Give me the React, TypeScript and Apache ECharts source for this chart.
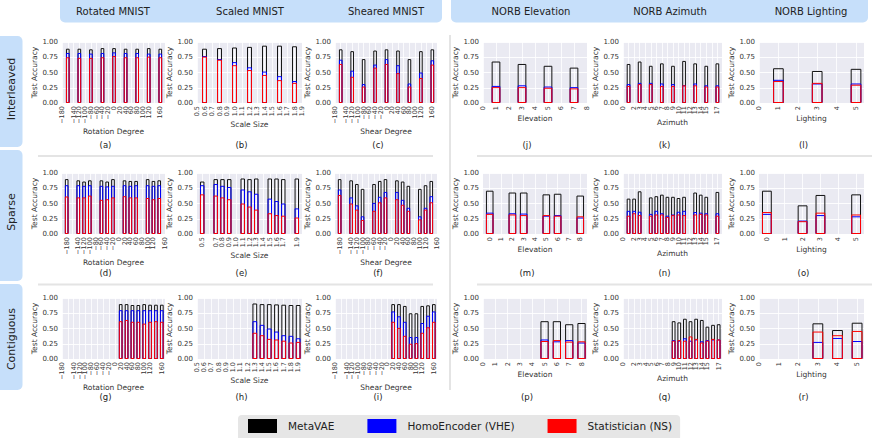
import React, { useEffect, useRef } from "react";
import * as echarts from "echarts";

// ---------- tick values ----------
const rotationTicks = [-180, -160, -140, -120, -100, -80, -60, -40, -20, 0, 20, 40, 60, 80, 100, 120, 140, 160];
const scaleTicks = [0.5, 0.6, 0.7, 0.8, 0.9, 1.0, 1.1, 1.2, 1.3, 1.4, 1.5, 1.6, 1.7, 1.8, 1.9];
const shearTicks = [-180, -160, -140, -120, -100, -80, -60, -40, -20, 0, 20, 40, 60, 80, 100, 120, 140, 160];
const elevationTicks = [0, 1, 2, 3, 4, 5, 6, 7, 8];
const azimuthTicks = [0, 1, 2, 3, 4, 5, 6, 7, 8, 9, 10, 11, 12, 13, 14, 15, 16, 17];
const lightingTicks = [0, 1, 2, 3, 4, 5];

const headerLeft = ["Rotated MNIST", "Scaled MNIST", "Sheared MNIST"];
const headerRight = ["NORB Elevation", "NORB Azimuth", "NORB Lighting"];
const rowNames = ["Interleaved", "Sparse", "Contiguous"];
const seriesNames = ["MetaVAE", "HomoEncoder (VHE)", "Statistician (NS)"];

// ---------- (a) Rotated / Interleaved ----------
const aX = [-160, -120, -80, -40, 0, 40, 80, 120, 160];
const aMeta = [0.89, 0.89, 0.88, 0.9, 0.9, 0.89, 0.89, 0.9, 0.89];
const aVhe = [0.82, 0.82, 0.81, 0.82, 0.83, 0.82, 0.82, 0.81, 0.81];
const aNs = [0.75, 0.74, 0.74, 0.75, 0.77, 0.75, 0.75, 0.76, 0.75];
// ---------- (b) Scaled / Interleaved ----------
const bX = [0.6, 0.8, 1.0, 1.2, 1.4, 1.6, 1.8];
const bMeta = [0.89, 0.9, 0.91, 0.92, 0.94, 0.94, 0.93];
const bVhe = [0.77, 0.72, 0.67, 0.585, 0.515, 0.44, 0.36];
const bNs = [0.76, 0.71, 0.62, 0.54, 0.46, 0.375, 0.33];
// ---------- (c) Sheared / Interleaved ----------
const cX = [-160, -120, -80, -40, 0, 40, 80, 120, 160];
const cMeta = [0.88, 0.85, 0.72, 0.86, 0.88, 0.86, 0.72, 0.85, 0.88];
const cVhe = [0.71, 0.53, 0.31, 0.63, 0.72, 0.62, 0.32, 0.5, 0.7];
const cNs = [0.64, 0.43, 0.27, 0.58, 0.64, 0.49, 0.27, 0.41, 0.63];
// ---------- (d) Rotated / Sparse ----------
const dX = [-180, -140, -120, -100, -60, -40, -20, 20, 40, 60, 100, 120, 140];
const dMeta = [0.9, 0.88, 0.86, 0.88, 0.88, 0.86, 0.9, 0.88, 0.87, 0.87, 0.9, 0.87, 0.88];
const dVhe = [0.8, 0.8, 0.79, 0.8, 0.79, 0.78, 0.79, 0.8, 0.79, 0.8, 0.8, 0.79, 0.8];
const dNs = [0.615, 0.6, 0.6, 0.63, 0.56, 0.57, 0.6, 0.62, 0.6, 0.6, 0.59, 0.57, 0.59];
// ---------- (e) Scaled / Sparse ----------
const eX = [0.5, 0.7, 0.8, 0.9, 1.1, 1.2, 1.3, 1.5, 1.6, 1.7, 1.9];
const eMeta = [0.86, 0.9, 0.9, 0.9, 0.91, 0.9, 0.91, 0.91, 0.91, 0.9, 0.91];
const eVhe = [0.8, 0.82, 0.79, 0.77, 0.73, 0.7, 0.66, 0.58, 0.54, 0.5, 0.42];
const eNs = [0.65, 0.63, 0.6, 0.57, 0.5, 0.45, 0.4, 0.34, 0.31, 0.3, 0.27];
// ---------- (f) Sheared / Sparse ----------
const fX = [-180, -140, -120, -100, -60, -40, -20, 20, 40, 60, 100, 120, 140];
const fMeta = [0.9, 0.88, 0.82, 0.74, 0.82, 0.87, 0.9, 0.88, 0.86, 0.79, 0.74, 0.8, 0.87];
const fVhe = [0.73, 0.6, 0.47, 0.29, 0.51, 0.61, 0.69, 0.69, 0.56, 0.43, 0.29, 0.43, 0.62];
const fNs = [0.64, 0.5, 0.4, 0.23, 0.38, 0.52, 0.6, 0.57, 0.48, 0.38, 0.24, 0.4, 0.52];
// ---------- (g) Rotated / Contiguous ----------
const gX = [20, 40, 60, 80, 100, 120, 140, 160];
const gMeta = [0.9, 0.9, 0.885, 0.885, 0.9, 0.89, 0.89, 0.89];
const gVhe = [0.8, 0.8, 0.8, 0.8, 0.8, 0.8, 0.8, 0.8];
const gNs = [0.62, 0.64, 0.61, 0.61, 0.58, 0.61, 0.62, 0.61];
// ---------- (h) Scaled / Contiguous ----------
const hX = [1.3, 1.4, 1.5, 1.6, 1.7, 1.8, 1.9];
const hMeta = [0.91, 0.9, 0.9, 0.895, 0.89, 0.885, 0.885];
const hVhe = [0.62, 0.56, 0.5, 0.45, 0.39, 0.38, 0.34];
const hNs = [0.43, 0.39, 0.33, 0.32, 0.3, 0.27, 0.28];
// ---------- (i) Sheared / Contiguous ----------
const iX = [20, 40, 60, 80, 100, 120, 140, 160];
const iMeta = [0.9, 0.9, 0.87, 0.75, 0.75, 0.87, 0.88, 0.9];
const iVhe = [0.78, 0.7, 0.61, 0.36, 0.36, 0.59, 0.71, 0.78];
const iNs = [0.61, 0.51, 0.38, 0.25, 0.26, 0.43, 0.52, 0.61];
// ---------- (j) Elevation / Interleaved ----------
const jX = [1, 3, 5, 7];
const jMeta = [0.68, 0.64, 0.61, 0.58];
const jVhe = [0.28, 0.29, 0.27, 0.26];
const jNs = [0.26, 0.26, 0.25, 0.24];
// ---------- (k) Azimuth / Interleaved ----------
const kX = [1, 3, 5, 7, 9, 11, 13, 15, 17];
const kMeta = [0.64, 0.68, 0.61, 0.65, 0.61, 0.69, 0.65, 0.61, 0.65];
const kVhe = [0.31, 0.33, 0.33, 0.32, 0.31, 0.29, 0.32, 0.29, 0.29];
const kNs = [0.28, 0.31, 0.31, 0.28, 0.28, 0.29, 0.29, 0.27, 0.27];
// ---------- (l) Lighting / Interleaved ----------
const lX = [1, 3, 5];
const lMeta = [0.57, 0.525, 0.56];
const lVhe = [0.38, 0.32, 0.32];
const lNs = [0.36, 0.33, 0.3];
// ---------- (m) Elevation / Sparse ----------
const mX = [0, 2, 3, 5, 6, 8];
const mMeta = [0.71, 0.68, 0.68, 0.65, 0.66, 0.63];
const mVhe = [0.35, 0.34, 0.335, 0.3, 0.31, 0.27];
const mNs = [0.33, 0.32, 0.31, 0.31, 0.3, 0.29];
// ---------- (n) Azimuth / Sparse ----------
const nX = [1, 2, 3, 5, 6, 7, 8, 9, 10, 11, 13, 14, 15, 17];
const nMeta = [0.58, 0.58, 0.7, 0.6, 0.62, 0.645, 0.61, 0.61, 0.59, 0.61, 0.68, 0.645, 0.61, 0.69];
const nVhe = [0.38, 0.38, 0.365, 0.33, 0.38, 0.34, 0.3, 0.32, 0.365, 0.38, 0.36, 0.35, 0.34, 0.34];
const nNs = [0.3, 0.34, 0.31, 0.3, 0.32, 0.32, 0.28, 0.31, 0.32, 0.31, 0.32, 0.33, 0.32, 0.3];
// ---------- (o) Lighting / Sparse ----------
const oX = [0, 2, 3, 5];
const oMeta = [0.71, 0.47, 0.64, 0.65];
const oVhe = [0.33, 0.22, 0.31, 0.29];
const oNs = [0.36, 0.21, 0.35, 0.32];
// ---------- (p) Elevation / Contiguous ----------
const pX = [5, 6, 7, 8];
const pMeta = [0.62, 0.62, 0.57, 0.59];
const pVhe = [0.32, 0.29, 0.31, 0.27];
const pNs = [0.295, 0.31, 0.285, 0.29];
// ---------- (q) Azimuth / Contiguous ----------
const qX = [9, 10, 11, 12, 13, 14, 15, 16, 17];
const qMeta = [0.62, 0.6, 0.66, 0.62, 0.66, 0.64, 0.53, 0.56, 0.57];
const qVhe = [0.31, 0.3, 0.34, 0.3, 0.32, 0.29, 0.31, 0.32, 0.32];
const qNs = [0.3, 0.31, 0.3, 0.37, 0.33, 0.27, 0.3, 0.33, 0.32];
// ---------- (r) Lighting / Contiguous ----------
const rX = [3, 4, 5];
const rMeta = [0.585, 0.475, 0.595];
const rVhe = [0.28, 0.345, 0.295];
const rNs = [0.45, 0.39, 0.46];

const FONT = "DejaVu Sans";
const TXT = "#333333";
const HEAD_BG = "#c6dffa";
const SEP = "#e4e4e4";
const COLORS = ["#111111", "#0000ff", "#ff0000"];

const minusFmt = (v: number) => (v < 0 ? "\u2212" + String(-v) : String(v));
const DATASETS: Record<string, any> = {
  rotation: { ticks: rotationTicks, axisName: "Rotation Degree", frac: 0.63, nameGap: 17, fmt: minusFmt },
  scale: { ticks: scaleTicks, axisName: "Scale Size", frac: 0.66, nameGap: 9, fmt: (v: number) => v.toFixed(1) },
  shear: { ticks: shearTicks, axisName: "Shear Degree", frac: 0.63, nameGap: 17, fmt: minusFmt },
  elevation: { ticks: elevationTicks, axisName: "Elevation", frac: 0.67, nameGap: 3.5, fmt: (v: number) => String(Math.round(v)) },
  azimuth: { ticks: azimuthTicks, axisName: "Azimuth", frac: 0.67, nameGap: 8, fmt: (v: number) => String(Math.round(v)) },
  lighting: { ticks: lightingTicks, axisName: "Lighting", frac: 0.55, nameGap: 4, fmt: (v: number) => String(Math.round(v)) },
};

const PANELS = [
  { cap: "(a)", row: 0, col: 0, ds: "rotation", x: aX, s: [aMeta, aVhe, aNs] },
  { cap: "(b)", row: 0, col: 1, ds: "scale", x: bX, s: [bMeta, bVhe, bNs] },
  { cap: "(c)", row: 0, col: 2, ds: "shear", x: cX, s: [cMeta, cVhe, cNs] },
  { cap: "(j)", row: 0, col: 3, ds: "elevation", x: jX, s: [jMeta, jVhe, jNs] },
  { cap: "(k)", row: 0, col: 4, ds: "azimuth", x: kX, s: [kMeta, kVhe, kNs] },
  { cap: "(l)", row: 0, col: 5, ds: "lighting", x: lX, s: [lMeta, lVhe, lNs] },
  { cap: "(d)", row: 1, col: 0, ds: "rotation", x: dX, s: [dMeta, dVhe, dNs] },
  { cap: "(e)", row: 1, col: 1, ds: "scale", x: eX, s: [eMeta, eVhe, eNs] },
  { cap: "(f)", row: 1, col: 2, ds: "shear", x: fX, s: [fMeta, fVhe, fNs] },
  { cap: "(m)", row: 1, col: 3, ds: "elevation", x: mX, s: [mMeta, mVhe, mNs] },
  { cap: "(n)", row: 1, col: 4, ds: "azimuth", x: nX, s: [nMeta, nVhe, nNs] },
  { cap: "(o)", row: 1, col: 5, ds: "lighting", x: oX, s: [oMeta, oVhe, oNs] },
  { cap: "(g)", row: 2, col: 0, ds: "rotation", x: gX, s: [gMeta, gVhe, gNs] },
  { cap: "(h)", row: 2, col: 1, ds: "scale", x: hX, s: [hMeta, hVhe, hNs] },
  { cap: "(i)", row: 2, col: 2, ds: "shear", x: iX, s: [iMeta, iVhe, iNs] },
  { cap: "(p)", row: 2, col: 3, ds: "elevation", x: pX, s: [pMeta, pVhe, pNs] },
  { cap: "(q)", row: 2, col: 4, ds: "azimuth", x: qX, s: [qMeta, qVhe, qNs] },
  { cap: "(r)", row: 2, col: 5, ds: "lighting", x: rX, s: [rMeta, rVhe, rNs] },
];

const COL_L = [62, 197, 335, 483, 623, 759];
const COL_R = [165, 302, 437, 587, 722, 864];
const ROW_T = [42, 173, 298];
const ROW_H = 61;
const CAP_Y = [145, 273, 397];

function buildOption() {
  const grid: any[] = [];
  const xAxis: any[] = [];
  const yAxis: any[] = [];
  const series: any[] = [];
  const elements: any[] = [];

  PANELS.forEach((p, gi) => {
    const ds = DATASETS[p.ds];
    const left = COL_L[p.col];
    const width = COL_R[p.col] - left;
    const top = ROW_T[p.row];
    grid.push({ left, top, width, height: ROW_H, show: true, backgroundColor: "#EAEAF2", borderWidth: 0 });
    const ticks = ds.ticks;
    const step = ticks[1] - ticks[0];
    const half = (ds.frac * step) / 2;
    const first = p.x[0];
    const last = p.x[p.x.length - 1];
    const span = last - first + 2 * half;
    const lo = Math.min(first - half - 0.03 * span, ticks[0]);
    const hi = Math.max(last + half + 0.03 * span, ticks[ticks.length - 1]);
    const barPx = (ds.frac * step * width) / (hi - lo);

    xAxis.push({
      type: "value",
      gridIndex: gi,
      min: lo,
      max: hi,
      axisLine: { show: false },
      axisTick: { show: false, customValues: ticks },
      axisLabel: {
        customValues: ticks,
        rotate: 90,
        fontSize: 6.5,
        margin: 3,
        color: TXT,
        fontFamily: FONT,
        showMinLabel: true,
        showMaxLabel: true,
        hideOverlap: false,
        formatter: (v: number) => ds.fmt(v),
      },
      splitLine: { show: true, lineStyle: { color: "#ffffff", width: 0.8 } },
      name: ds.axisName,
      nameLocation: "middle",
      nameGap: ds.nameGap,
      nameTextStyle: { fontSize: 7.5, color: TXT, fontFamily: FONT, verticalAlign: "top" },
    });
    yAxis.push({
      type: "value",
      gridIndex: gi,
      min: 0,
      max: 1,
      interval: 0.25,
      axisLine: { show: false },
      axisTick: { show: false },
      axisLabel: { fontSize: 7, margin: 4, color: TXT, fontFamily: FONT, formatter: (v: number) => v.toFixed(2) },
      splitLine: { show: true, lineStyle: { color: "#ffffff", width: 0.9 } },
      name: "Test Accuracy",
      nameLocation: "middle",
      nameGap: 20,
      nameTextStyle: { fontSize: 7.5, color: TXT, fontFamily: FONT },
    });
    p.s.forEach((vals, si) => {
      series.push({
        type: "bar",
        name: seriesNames[si],
        xAxisIndex: gi,
        yAxisIndex: gi,
        barWidth: barPx,
        barGap: "-100%",
        silent: true,
        emphasis: { disabled: true },
        itemStyle: { color: "rgba(0,0,0,0)", borderColor: COLORS[si], borderWidth: 1 },
        data: p.x.map((xv: number, k: number) => [xv, vals[k]]),
      });
    });
    elements.push({
      type: "text",
      x: (COL_L[p.col] + COL_R[p.col]) / 2 - 8,
      y: CAP_Y[p.row],
      style: {
        text: p.cap,
        fontSize: 8.5,
        fontFamily: FONT,
        fill: "#222",
        textAlign: "center",
        textVerticalAlign: "middle",
        align: "center",
        verticalAlign: "middle",
      },
    });
  });

  // headers
  elements.push({ type: "rect", shape: { x: 60, y: -6, width: 382, height: 28.5, r: 5 }, style: { fill: HEAD_BG }, z: -1 });
  elements.push({ type: "rect", shape: { x: 451, y: -6, width: 417, height: 28.5, r: 5 }, style: { fill: HEAD_BG }, z: -1 });
  const headX = [113, 250, 386, 531, 670, 811];
  [...headerLeft, ...headerRight].forEach((t, k) => {
    elements.push({
      type: "text",
      x: headX[k],
      y: 11,
      style: { text: t, fontSize: 10, fontFamily: FONT, fill: "#222", textAlign: "center", textVerticalAlign: "middle", align: "center", verticalAlign: "middle" },
    });
  });
  // row labels
  const rowBox = [
    [36, 147],
    [150, 281],
    [284, 390],
  ];
  const rowTextY = [89, 212, 339];
  rowNames.forEach((t, k) => {
    elements.push({
      type: "rect",
      shape: { x: -6, y: rowBox[k][0], width: 28.5, height: rowBox[k][1] - rowBox[k][0], r: 5 },
      style: { fill: HEAD_BG },
      z: -1,
    });
    elements.push({
      type: "text",
      x: 11,
      y: rowTextY[k],
      rotation: Math.PI / 2,
      style: { text: t, fontSize: 11, fontFamily: FONT, fill: "#222", textAlign: "center", textVerticalAlign: "middle", align: "center", verticalAlign: "middle" },
    });
  });
  // separators
  [156, 284.5].forEach((yy) => {
    elements.push({ type: "line", shape: { x1: 38, y1: yy, x2: 433, y2: yy }, style: { stroke: SEP, lineWidth: 2 } });
    elements.push({ type: "line", shape: { x1: 477, y1: yy, x2: 872, y2: yy }, style: { stroke: SEP, lineWidth: 2 } });
  });
  elements.push({ type: "line", shape: { x1: 450, y1: 35, x2: 450, y2: 390 }, style: { stroke: SEP, lineWidth: 2 } });

  return {
    animation: false,
    backgroundColor: "#ffffff",
    textStyle: { fontFamily: FONT },
    grid,
    xAxis,
    yAxis,
    series,
    legend: {
      data: seriesNames.map((n, k) => ({ name: n, itemStyle: { color: k === 0 ? "#000000" : COLORS[k], borderWidth: 0 } })),
      left: 238,
      top: 415,
      icon: "rect",
      itemWidth: 29,
      itemHeight: 14,
      itemGap: 33,
      selectedMode: false,
      backgroundColor: "#e6e6e6",
      borderRadius: 4,
      padding: [4, 8, 8, 10],
      textStyle: { fontSize: 10.5, color: "#222", fontFamily: FONT, padding: [0, 0, 0, 6] },
    },
    graphic: { elements },
  };
}

export default function App() {
  const ref = useRef<HTMLDivElement>(null);
  useEffect(() => {
    if (!ref.current) return;
    const chart = echarts.init(ref.current, undefined, { renderer: "svg" });
    chart.setOption(buildOption() as any);
    return () => chart.dispose();
  }, []);
  return <div ref={ref} style={{ position: "fixed", left: 0, top: 0, width: 872, height: 438 }} />;
}
